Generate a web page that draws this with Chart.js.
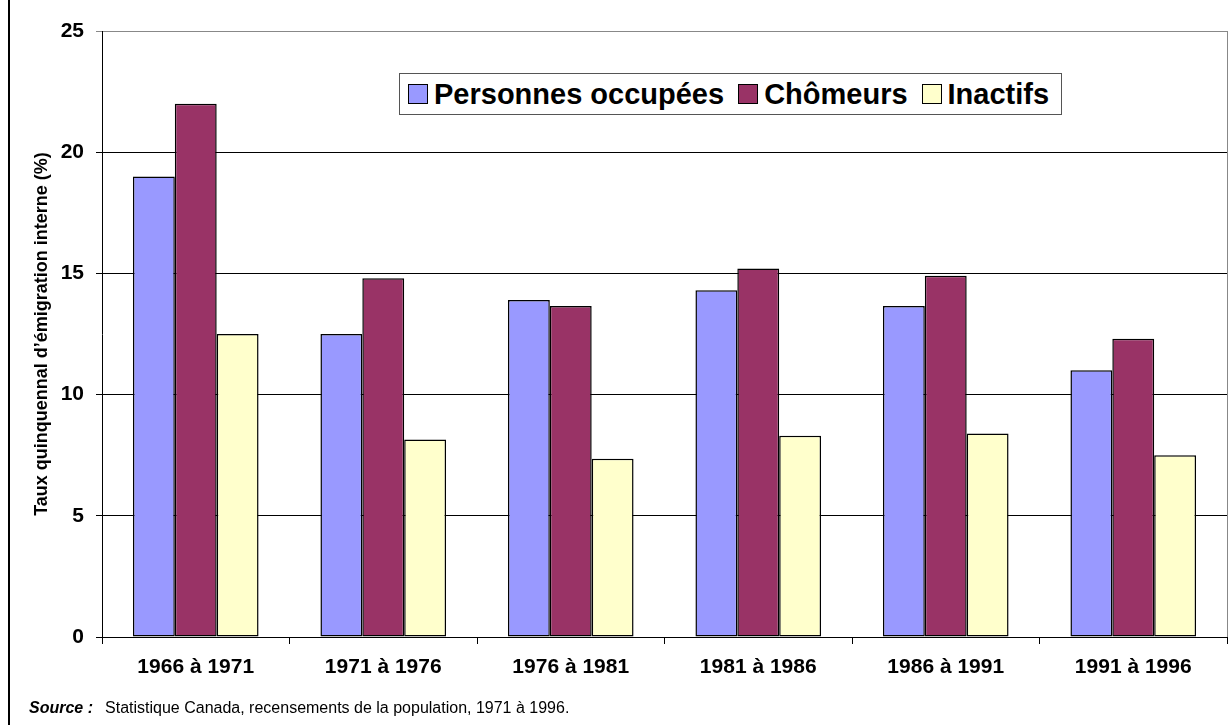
<!DOCTYPE html>
<html>
<head>
<meta charset="utf-8">
<script src="https://cdn.jsdelivr.net/npm/chart.js@4/dist/chart.umd.min.js"></script>
<style>
  body { margin: 0; background: #fff; }
  #wrap { position: relative; width: 1228px; height: 725px; font-family: "Liberation Sans", Arial, sans-serif; }
  #frame { position: absolute; left: 8px; top: 0; width: 0; height: 725px; border-left: 2px solid #000; }
  #legend { position: absolute; left: 399px; top: 73px; height: 40px; padding: 0 12px 0 8px;
            border: 1px solid #555; background: #fff; display: flex; align-items: center;
            font-weight: bold; font-size: 29px; white-space: nowrap; }
  #legend .item { display: flex; align-items: center; margin-right: 14px; }
  #legend .item:last-child { margin-right: 0; }
  #legend .box { width: 18px; height: 18px; border: 1px solid #000; margin-right: 6px; }
  #source { position: absolute; left: 29px; top: 699px; font-size: 16px; }
  #source b { font-style: italic; margin-right: 12px; }
</style>
</head>
<body>
<div id="wrap">
  <canvas id="barChart"></canvas>
  <div id="frame"></div>
  <div id="legend"></div>
  <div id="source"><b>Source :</b>Statistique Canada, recensements de la population, 1971 à 1996.</div>
</div>
<script>
// Periods on the x axis
const periods = ['1966 à 1971', '1971 à 1976', '1976 à 1981', '1981 à 1986', '1986 à 1991', '1991 à 1996'];

// Series values (%)
const occupees = [19.0, 12.5, 13.9, 14.3, 13.65, 11.0];
const chomeurs = [22.0, 14.8, 13.65, 15.2, 14.9, 12.3];
const inactifs = [12.5, 8.15, 7.35, 8.3, 8.4, 7.5];

const seriesNames = ['Personnes occupées', 'Chômeurs', 'Inactifs'];
const seriesColors = ['#9999FF', '#993366', '#FFFFCC'];

const yTitle = 'Taux quinquennal d\u2019émigration interne (%)';

// Thin gray frame on the right side of the plot area
const plotBorder = {
    id: 'plotBorder',
    afterDraw(chart) {
        const { ctx, chartArea } = chart;
        ctx.save();
        ctx.strokeStyle = '#888';
        ctx.lineWidth = 1;
        ctx.beginPath();
        ctx.moveTo(chartArea.right + 0.5, chartArea.top);
        ctx.lineTo(chartArea.right + 0.5, chartArea.bottom);
        ctx.stroke();
        ctx.restore();
    }
};

const font = 'Liberation Sans, Arial, sans-serif';

const ctx = document.getElementById('barChart').getContext('2d');
const barChart = new Chart(ctx, {
    type: 'bar',
    data: {
        labels: periods,
        datasets: [occupees, chomeurs, inactifs].map((values, i) => ({
            label: seriesNames[i],
            data: values,
            backgroundColor: seriesColors[i],
            borderColor: '#000',
            borderWidth: 1.5,
            borderSkipped: false,
            categoryPercentage: 0.67,
            barPercentage: 1.0
        }))
    },
    options: {
        responsive: true,
        maintainAspectRatio: false,
        animation: false,
        layout: { padding: { top: 31, right: 1, left: 0, bottom: 0 } },
        plugins: {
            legend: { display: false },
            tooltip: { enabled: false }
        },
        scales: {
            x: {
                afterFit: (scale) => { scale.height = 88; },
                grid: { drawOnChartArea: false, drawTicks: true, tickLength: 7, color: '#000', offset: true },
                border: { color: '#000', width: 1 },
                ticks: { color: '#000', padding: 11, font: { family: font, size: 21, weight: 'bold' } }
            },
            y: {
                min: 0,
                max: 25,
                afterFit: (scale) => { scale.width = 102; },
                ticks: { stepSize: 5, color: '#000', padding: 12, font: { family: font, size: 21, weight: 'bold' } },
                grid: {
                    color: (c) => (c.tick && c.tick.value === 25 ? '#888' : '#000'),
                    tickLength: 6,
                    lineWidth: 1
                },
                border: { color: '#000', width: 1 },
                title: {
                    display: true,
                    text: yTitle,
                    color: '#000',
                    padding: { top: 31, bottom: 0 },
                    font: { family: font, size: 18, weight: 'bold' }
                }
            }
        }
    },
    plugins: [plotBorder]
});

// Build the in-plot legend from the datasets
const legendEl = document.getElementById('legend');
barChart.data.datasets.forEach((ds) => {
    const item = document.createElement('div');
    item.className = 'item';
    const box = document.createElement('span');
    box.className = 'box';
    box.style.background = ds.backgroundColor;
    const txt = document.createElement('span');
    txt.textContent = ds.label;
    item.appendChild(box);
    item.appendChild(txt);
    legendEl.appendChild(item);
});
</script>
</body>
</html>
